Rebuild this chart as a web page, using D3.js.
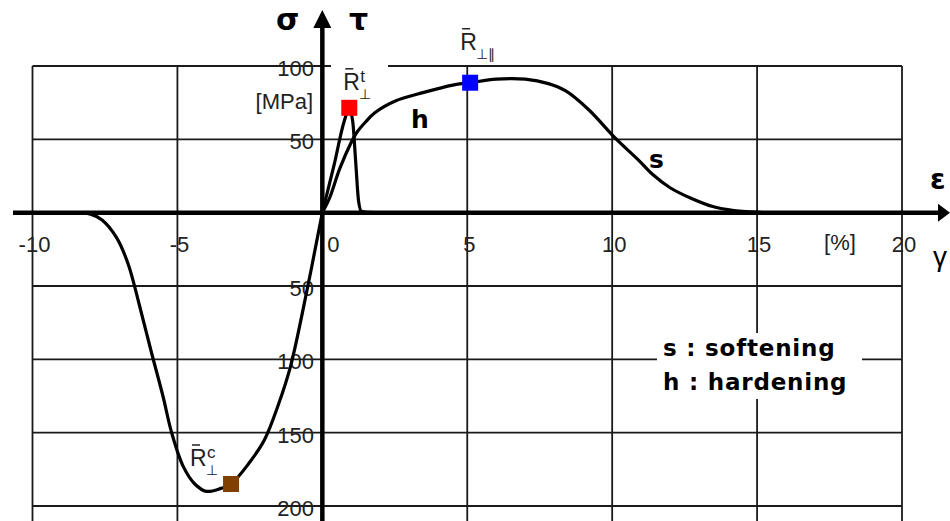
<!DOCTYPE html>
<html>
<head>
<meta charset="utf-8">
<script src="https://cdn.jsdelivr.net/npm/d3@7"></script>
<style>
  body { margin: 0; background: #fff; }
  svg { display: block; }
</style>
</head>
<body>
<svg id="chart" width="950" height="521"></svg>
<script>
// strain [%] vs stress [MPa]
const compression = [
  [-8.7, 0], [-8.0, -1], [-7.6, -5], [-7.1, -17], [-6.7, -35], [-6.3, -64],
  [-5.9, -95], [-5.5, -125], [-5.2, -150], [-4.8, -173], [-4.4, -185],
  [-4.0, -190], [-3.5, -188], [-3.15, -185], [-2.5, -170], [-2.0, -155],
  [-1.5, -130], [-1.1, -105], [-0.5, -50], [-0.1, -10], [0, 0]
];
const shear = [
  [0, 0], [0.25, 10], [0.6, 30], [1.0, 48], [1.2, 55], [1.5, 62], [1.8, 68],
  [2.5, 76], [3.5, 82], [4.5, 87], [5.1, 88.6], [6.0, 91], [7.0, 91],
  [7.8, 88], [8.4, 83], [9.2, 70], [10.1, 51], [10.9, 36], [11.4, 26],
  [12.0, 17], [12.7, 10], [13.5, 4], [14.2, 1.5], [15.3, 0]
];
const tension = [
  [0, 0], [0.4, 32], [0.75, 62], [0.93, 71], [1.05, 62], [1.15, 35],
  [1.25, 8], [1.35, 1], [1.6, 0.3], [2.7, 0]
];

// strength points R_perp^t, R_perp_par, R_perp^c
const strengthX = [0.93, 5.1, -3.15];
const strengthY = [71.5, 88.6, -185];
const strengthColors = ["#ff0000", "#0000ff", "#804000"];

const xTicks = [-10, -5, 0, 5, 10, 15, 20];
const xTickLabels = ["-10", "-5", "0", "5", "10", "15", "20"];
const yTicks = [100, 50, -50, -100, -150, -200];
const yTickLabels = ["100", "50", "50", "100", "150", "200"];

const svg = d3.select("#chart");

const x = d3.scaleLinear().domain([-10, 20]).range([32.5, 902]);
const y = d3.scaleLinear().domain([-200, 100]).range([506, 66]);

const gridColor = "#1a1a1a";
const numFont = "'Liberation Sans', Arial, sans-serif";
const boldFont = "'DejaVu Sans', sans-serif";

// grid
const grid = svg.append("g");
grid.selectAll("line.v")
  .data(xTicks)
  .join("line")
    .attr("x1", d => x(d)).attr("x2", d => x(d))
    .attr("y1", y(100)).attr("y2", 521)
    .attr("stroke", gridColor).attr("stroke-width", 1.8);
grid.selectAll("line.h")
  .data(yTicks)
  .join("line")
    .attr("x1", x(-10)).attr("x2", x(20))
    .attr("y1", d => y(d)).attr("y2", d => y(d))
    .attr("stroke", gridColor).attr("stroke-width", 1.8);

// white patches behind the R_perp^t label and the legend
svg.append("rect").attr("x", 331).attr("y", 56).attr("width", 57).attr("height", 42).attr("fill", "#fff");
svg.append("rect").attr("x", 657).attr("y", 333).attr("width", 205).attr("height", 66).attr("fill", "#fff");

// tick labels
svg.append("g").selectAll("text")
  .data(xTicks)
  .join("text")
    .attr("x", d => x(d) + (d === 0 ? 11 : 2))
    .attr("y", 252)
    .attr("text-anchor", "middle")
    .attr("font-family", numFont).attr("font-size", 22)
    .attr("fill", "#222")
    .text((d, i) => xTickLabels[i]);

svg.append("g").selectAll("text")
  .data(yTicks)
  .join("text")
    .attr("x", 314)
    .attr("y", d => y(d) + 10)
    .attr("text-anchor", "end")
    .attr("font-family", numFont).attr("font-size", 22)
    .attr("fill", "#222")
    .text((d, i) => yTickLabels[i]);

svg.append("text").attr("x", 840).attr("y", 250).attr("text-anchor", "middle")
  .attr("font-family", numFont).attr("font-size", 22).attr("fill", "#222").text("[%]");
svg.append("text").attr("x", 313).attr("y", 109).attr("text-anchor", "end")
  .attr("font-family", numFont).attr("font-size", 22).attr("fill", "#222").text("[MPa]");

// curves: smooth ones through catmull-rom, the tensile spike kept monotone
const smooth = d3.line()
  .x(d => x(d[0]))
  .y(d => y(d[1]))
  .curve(d3.curveCatmullRom.alpha(0.5));
const spike = d3.line()
  .x(d => x(d[0]))
  .y(d => y(d[1]))
  .curve(d3.curveMonotoneX);

[[compression, smooth], [shear, smooth], [tension, spike]].forEach(([pts, gen]) => {
  svg.append("path")
    .attr("d", gen(pts))
    .attr("fill", "none")
    .attr("stroke", "#000")
    .attr("stroke-width", 3.2)
    .attr("stroke-linejoin", "round");
});

// axes with arrows
svg.append("line")
  .attr("x1", 13).attr("x2", 940)
  .attr("y1", y(0)).attr("y2", y(0))
  .attr("stroke", "#000").attr("stroke-width", 4.5);
svg.append("path")
  .attr("d", `M950,${y(0)} L938,${y(0) - 9} L938,${y(0) + 9} Z`)
  .attr("fill", "#000");
svg.append("line")
  .attr("x1", x(0)).attr("x2", x(0))
  .attr("y1", 521).attr("y2", 24)
  .attr("stroke", "#000").attr("stroke-width", 4.5);
svg.append("path")
  .attr("d", `M${x(0)},10 L${x(0) - 9},28 L${x(0) + 9},28 Z`)
  .attr("fill", "#000");

svg.append("text").attr("x", 276).attr("y", 30)
  .attr("font-family", boldFont).attr("font-weight", "bold").attr("font-size", 30).text("σ");
svg.append("text").attr("x", 349).attr("y", 30)
  .attr("font-family", boldFont).attr("font-weight", "bold").attr("font-size", 30).text("τ");
svg.append("text").attr("x", 930).attr("y", 189)
  .attr("font-family", boldFont).attr("font-weight", "bold").attr("font-size", 28).text("ε");
svg.append("text").attr("x", 933).attr("y", 266)
  .attr("font-family", numFont).attr("font-size", 28).text("γ");

// strength markers
svg.append("g").selectAll("rect")
  .data(strengthX)
  .join("rect")
    .attr("x", d => x(d) - 8)
    .attr("y", (d, i) => y(strengthY[i]) - 8)
    .attr("width", 16).attr("height", 16)
    .attr("fill", (d, i) => strengthColors[i]);

// R-bar labels: R with bar, superscript and subscript
function rLabel(px, py, sup, sub) {
  const g = svg.append("g").attr("fill", "#222");
  g.append("text").attr("x", px).attr("y", py)
    .attr("font-family", numFont).attr("font-size", 23).text("R");
  g.append("line").attr("x1", px + 2).attr("x2", px + 10)
    .attr("y1", py - 21).attr("y2", py - 21)
    .attr("stroke", "#222").attr("stroke-width", 1.5);
  if (sup) g.append("text").attr("x", px + 17).attr("y", py - 8)
    .attr("font-family", numFont).attr("font-size", 17).text(sup);
  if (sub) g.append("text").attr("x", px + 16).attr("y", py + 9)
    .attr("font-family", numFont).attr("font-size", 14).text(sub);
}
rLabel(x(strengthX[0]) - 6, y(strengthY[0]) - 18, "t", "⊥");
rLabel(x(strengthX[1]) - 10, y(strengthY[1]) - 33, null, "⊥∥");
rLabel(x(strengthX[2]) - 41, y(strengthY[2]) - 18, "c", "⊥");

// curve annotations
svg.append("text").attr("x", 411).attr("y", 128)
  .attr("font-family", boldFont).attr("font-weight", "bold").attr("font-size", 25).text("h");
svg.append("text").attr("x", 649).attr("y", 168)
  .attr("font-family", boldFont).attr("font-weight", "bold").attr("font-size", 25).text("s");

// legend
const legendLines = ["s : softening", "h : hardening"];
svg.append("g").selectAll("text")
  .data(legendLines)
  .join("text")
    .attr("x", 663)
    .attr("y", (d, i) => 356 + i * 34)
    .attr("font-family", boldFont).attr("font-weight", "bold").attr("font-size", 23)
    .attr("letter-spacing", 0.8)
    .text(d => d);
</script>
</body>
</html>
